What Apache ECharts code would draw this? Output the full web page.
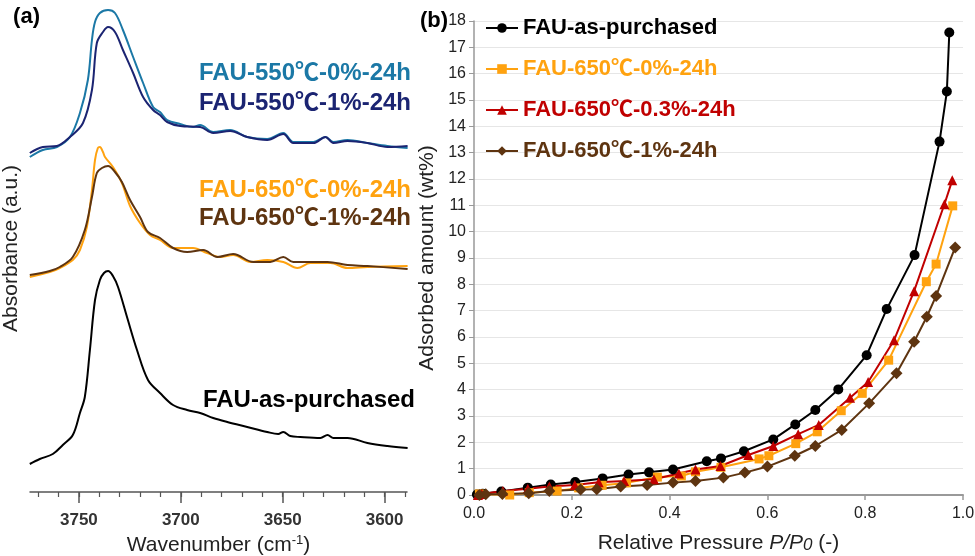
<!DOCTYPE html>
<html>
<head>
<meta charset="utf-8">
<script src="https://cdn.jsdelivr.net/npm/echarts@6/dist/echarts.min.js"></script>
<style>
  html, body { margin: 0; padding: 0; background: #fff; }
  #chart { width: 975px; height: 556px; }
</style>
</head>
<body>
<div id="chart"></div>
<script>
// (a) IR spectra, [wavenumber, absorbance a.u.] (curves already offset as in the figure)
const irAsPurchased = [
  [3774.1,0.28],[3769.2,0.33],[3762.8,0.38],[3757.9,0.47],[3753.0,0.57],[3749.5,0.79],[3747.1,0.95],
  [3744.6,1.42],[3742.1,1.92],[3739.7,2.12],[3737.7,2.19],[3735.7,2.21],[3733.3,2.16],[3730.8,2.05],
  [3726.4,1.75],[3721.5,1.42],[3716.1,1.12],[3710.2,0.99],[3703.8,0.87],[3696.9,0.82],[3690.5,0.79],
  [3684.1,0.74],[3677.2,0.70],[3667.4,0.65],[3657.6,0.60],[3652.2,0.58],[3649.7,0.60],[3646.3,0.56],
  [3641.3,0.55],[3631.5,0.54],[3628.0,0.57],[3625.1,0.54],[3618.2,0.54],[3608.4,0.49],[3598.6,0.46],
  [3588.7,0.44]
];
const ir650_0 = [
  [3774.1,2.15],[3764.3,2.20],[3759.4,2.24],[3753.0,2.32],[3749.5,2.42],[3746.1,2.65],[3743.6,3.02],
  [3742.1,3.32],[3740.7,3.44],[3739.7,3.45],[3738.2,3.40],[3737.2,3.35],[3733.3,3.25],[3728.9,3.09],
  [3724.9,2.86],[3720.0,2.69],[3715.1,2.57],[3710.2,2.52],[3703.8,2.44],[3694.0,2.44],[3687.1,2.39],
  [3680.7,2.35],[3674.3,2.37],[3665.9,2.30],[3657.6,2.32],[3649.7,2.30],[3642.8,2.24],[3636.4,2.29],
  [3626.6,2.29],[3618.2,2.24],[3608.4,2.25],[3588.7,2.26]
];
const ir650_1 = [
  [3774.1,2.17],[3764.3,2.21],[3759.4,2.25],[3753.0,2.35],[3747.1,2.62],[3743.6,2.95],[3741.2,3.19],
  [3738.7,3.24],[3735.7,3.26],[3732.3,3.20],[3728.9,3.10],[3724.9,2.92],[3720.0,2.75],[3716.1,2.60],
  [3710.2,2.54],[3703.8,2.44],[3696.9,2.40],[3689.0,2.42],[3682.1,2.35],[3674.3,2.38],[3664.4,2.30],
  [3656.1,2.30],[3649.7,2.35],[3644.8,2.30],[3636.4,2.30],[3628.0,2.30],[3618.2,2.27],[3608.4,2.26],
  [3588.7,2.23]
];
const ir550_0 = [
  [3774.1,3.35],[3767.7,3.42],[3760.8,3.45],[3754.4,3.55],[3749.5,3.79],[3745.6,4.12],[3743.6,4.52],
  [3742.1,4.70],[3739.7,4.79],[3735.7,4.82],[3732.3,4.79],[3728.4,4.62],[3723.4,4.35],[3718.5,4.09],
  [3713.6,3.85],[3710.2,3.80],[3706.7,3.72],[3700.3,3.68],[3694.0,3.65],[3690.5,3.67],[3684.1,3.60],
  [3675.8,3.62],[3667.4,3.55],[3657.6,3.53],[3649.7,3.59],[3644.8,3.50],[3634.9,3.50],[3629.0,3.55],
  [3625.1,3.50],[3618.2,3.52],[3608.4,3.49],[3598.6,3.46],[3588.7,3.44]
];
const ir550_1 = [
  [3774.1,3.39],[3767.7,3.45],[3760.8,3.46],[3754.4,3.55],[3748.0,3.69],[3743.6,4.02],[3741.2,4.49],
  [3738.2,4.60],[3735.7,4.65],[3732.3,4.60],[3728.4,4.42],[3723.4,4.19],[3718.5,3.95],[3713.6,3.82],
  [3710.2,3.77],[3706.7,3.70],[3700.3,3.66],[3690.5,3.65],[3684.1,3.59],[3675.8,3.61],[3667.4,3.55],
  [3657.6,3.52],[3649.7,3.58],[3644.8,3.49],[3634.9,3.49],[3629.0,3.55],[3625.1,3.49],[3618.2,3.51],
  [3608.4,3.49],[3598.6,3.45],[3588.7,3.46]
];
const wnMajorTicks = [3600, 3650, 3700, 3750];
const wnMinorTicks = [3590,3600,3610,3620,3630,3640,3650,3660,3670,3680,3690,3700,3710,3720,3730,3740,3750,3760,3770];

// (b) adsorption isotherms, [P/P0, wt%]
const isoAsPurchased = [
  [0.006,0.02],[0.018,0.05],[0.056,0.13],[0.110,0.28],[0.157,0.40],[0.207,0.49],[0.263,0.63],
  [0.316,0.78],[0.358,0.86],[0.407,0.97],[0.476,1.28],[0.505,1.39],[0.552,1.66],[0.612,2.11],
  [0.657,2.68],[0.698,3.23],[0.745,4.01],[0.803,5.31],[0.844,7.06],[0.901,9.11],[0.952,13.42],
  [0.967,15.32],[0.972,17.56]
];
const iso650_0 = [
  [0.011,0.04],[0.073,0.00],[0.113,0.09],[0.170,0.15],[0.214,0.27],[0.262,0.37],[0.312,0.46],
  [0.375,0.68],[0.424,0.72],[0.453,0.88],[0.505,1.05],[0.583,1.37],[0.603,1.49],[0.658,1.95],
  [0.702,2.40],[0.751,3.20],[0.794,3.86],[0.848,5.12],[0.925,8.10],[0.945,8.77],[0.979,10.98]
];
const iso650_03 = [
  [0.008,0.00],[0.016,0.04],[0.059,0.15],[0.110,0.24],[0.154,0.32],[0.206,0.38],[0.255,0.48],
  [0.307,0.53],[0.368,0.60],[0.419,0.82],[0.453,0.97],[0.504,1.10],[0.561,1.52],[0.612,1.86],
  [0.663,2.31],[0.705,2.66],[0.769,3.69],[0.806,4.29],[0.859,5.88],[0.900,7.74],[0.962,11.04],
  [0.978,11.95]
];
const iso650_1 = [
  [0.011,0.00],[0.024,0.03],[0.058,0.04],[0.112,0.07],[0.154,0.15],[0.218,0.21],[0.251,0.22],
  [0.300,0.32],[0.354,0.38],[0.407,0.47],[0.453,0.53],[0.510,0.66],[0.554,0.85],[0.600,1.08],
  [0.656,1.49],[0.698,1.86],[0.752,2.47],[0.808,3.48],[0.864,4.62],[0.900,5.82],[0.926,6.77],
  [0.945,7.56],[0.984,9.40]
];

const FONT = "Arial, 'Liberation Sans', 'Noto Sans CJK SC', sans-serif";
const C = {
  black: '#000000',
  blue: '#1b78a6',
  navy: '#1b2472',
  orange: '#ffa20f',
  brown: '#5e3410',
  red: '#c00000'
};

const chart = echarts.init(document.getElementById('chart'));

function irLine(name, data, color, z) {
  return {
    name: name, type: 'line', xAxisIndex: 0, yAxisIndex: 0,
    data: data, smooth: 0.35, showSymbol: false, z: z,
    lineStyle: { color: color, width: 2 }
  };
}
function isoLine(name, data, color, symbol, size) {
  return {
    name: name, type: 'line', xAxisIndex: 2, yAxisIndex: 1,
    data: data, symbol: symbol, symbolSize: size,
    itemStyle: { color: color },
    lineStyle: { color: color, width: 2 }
  };
}
function label(text, x, y, color, size) {
  return {
    type: 'text', x: x, y: y,
    style: { text: text, fill: color, font: 'bold ' + size + 'px ' + FONT,
             textAlign: 'right', textVerticalAlign: 'middle' }
  };
}

const option = {
  backgroundColor: '#fff',
  animation: false,
  textStyle: { fontFamily: FONT },
  grid: [
    { left: 30, right: 568, top: 5, bottom: 64, outerBoundsMode: 'none', containLabel: false },
    { left: 474, right: 12, top: 21, bottom: 61, outerBoundsMode: 'none', containLabel: false }
  ],
  xAxis: [
    {
      gridIndex: 0, type: 'value', inverse: true, min: 3589, max: 3774,
      name: 'Wavenumber (cm{sup|-1})', nameLocation: 'middle', nameGap: 41,
      nameTextStyle: { fontSize: 21, color: '#222', fontFamily: FONT,
        rich: { sup: { fontSize: 13, verticalAlign: 'top', padding: [0, 0, 10, 0], color: '#222' } } },
      axisLine: { lineStyle: { color: '#555', width: 1.5 } },
      axisTick: { length: 11, lineStyle: { color: '#555', width: 1.5 }, customValues: wnMajorTicks },
      axisLabel: { customValues: wnMajorTicks, fontSize: 17, fontWeight: 'bold', color: '#333', margin: 20,
        formatter: v => String(v) },
      splitLine: { show: false }
    },
    {
      gridIndex: 0, type: 'value', inverse: true, min: 3589, max: 3774, position: 'bottom',
      axisLine: { show: false },
      axisTick: { length: 5, lineStyle: { color: '#555', width: 1.2 }, customValues: wnMinorTicks },
      axisLabel: { show: false },
      splitLine: { show: false }
    },
    {
      gridIndex: 1, type: 'value', min: 0, max: 1, interval: 0.2,
      name: 'Relative Pressure {i|P/P}{isub|0} (-)', nameLocation: 'middle', nameGap: 38,
      nameTextStyle: { fontSize: 21, color: '#222', fontFamily: FONT,
        rich: { i: { fontSize: 21, fontStyle: 'italic', color: '#222' },
                isub: { fontSize: 17, fontStyle: 'italic', color: '#222', padding: [4, 0, 0, 0] } } },
      axisLine: { lineStyle: { color: '#999', width: 2 } },
      axisTick: { length: 5, lineStyle: { color: '#999', width: 1.5 } },
      axisLabel: { fontSize: 16, color: '#222', margin: 11, formatter: v => v.toFixed(1) },
      splitLine: { show: false }
    }
  ],
  yAxis: [
    {
      gridIndex: 0, type: 'value', min: 0, max: 4.87,
      name: 'Absorbance (a.u.)', nameLocation: 'middle', nameGap: 8,
      nameTextStyle: { fontSize: 21, color: '#222', fontFamily: FONT },
      axisLine: { show: false }, axisTick: { show: false },
      axisLabel: { show: false }, splitLine: { show: false }
    },
    {
      gridIndex: 1, type: 'value', min: 0, max: 18, interval: 1,
      name: 'Adsorbed amount (wt%)', nameLocation: 'middle', nameGap: 34,
      nameTextStyle: { fontSize: 21, color: '#222', fontFamily: FONT },
      axisLine: { show: true, lineStyle: { color: '#999', width: 1.5 } },
      axisTick: { show: true, length: 5, lineStyle: { color: '#999' } },
      axisLabel: { fontSize: 16, color: '#222', margin: 8 },
      splitLine: { lineStyle: { color: '#e6e6e6', width: 1 } }
    }
  ],
  legend: {
    orient: 'vertical', left: 485, top: 17, padding: 0,
    itemWidth: 32, itemHeight: 12, itemGap: 19,
    textStyle: { fontSize: 22, fontWeight: 'bold', lineHeight: 22, fontFamily: FONT },
    data: [
      { name: 'FAU-as-purchased', textStyle: { color: C.black } },
      { name: 'FAU-650℃-0%-24h', textStyle: { color: C.orange } },
      { name: 'FAU-650℃-0.3%-24h', textStyle: { color: C.red } },
      { name: 'FAU-650℃-1%-24h', textStyle: { color: C.brown } }
    ]
  },
  graphic: [
    label('(a)', 40, 17, '#000', 22),
    label('(b)', 448, 21, '#000', 22),
    label('FAU-550℃-0%-24h', 411, 73, C.blue, 24),
    label('FAU-550℃-1%-24h', 411, 103, C.navy, 24),
    label('FAU-650℃-0%-24h', 411, 190, C.orange, 24),
    label('FAU-650℃-1%-24h', 411, 218, C.brown, 24),
    label('FAU-as-purchased', 415, 400, C.black, 24)
  ],
  series: [
    irLine('a-as', irAsPurchased, C.black, 2),
    irLine('a-650-0', ir650_0, C.orange, 2),
    irLine('a-650-1', ir650_1, C.brown, 3),
    irLine('a-550-0', ir550_0, C.blue, 2),
    irLine('a-550-1', ir550_1, C.navy, 3),
    isoLine('FAU-as-purchased', isoAsPurchased, C.black, 'circle', 10),
    isoLine('FAU-650℃-0%-24h', iso650_0, C.orange, 'rect', 9),
    isoLine('FAU-650℃-0.3%-24h', iso650_03, C.red, 'triangle', 10),
    isoLine('FAU-650℃-1%-24h', iso650_1, C.brown, 'diamond', 12)
  ]
};

chart.setOption(option);
</script>
</body>
</html>
